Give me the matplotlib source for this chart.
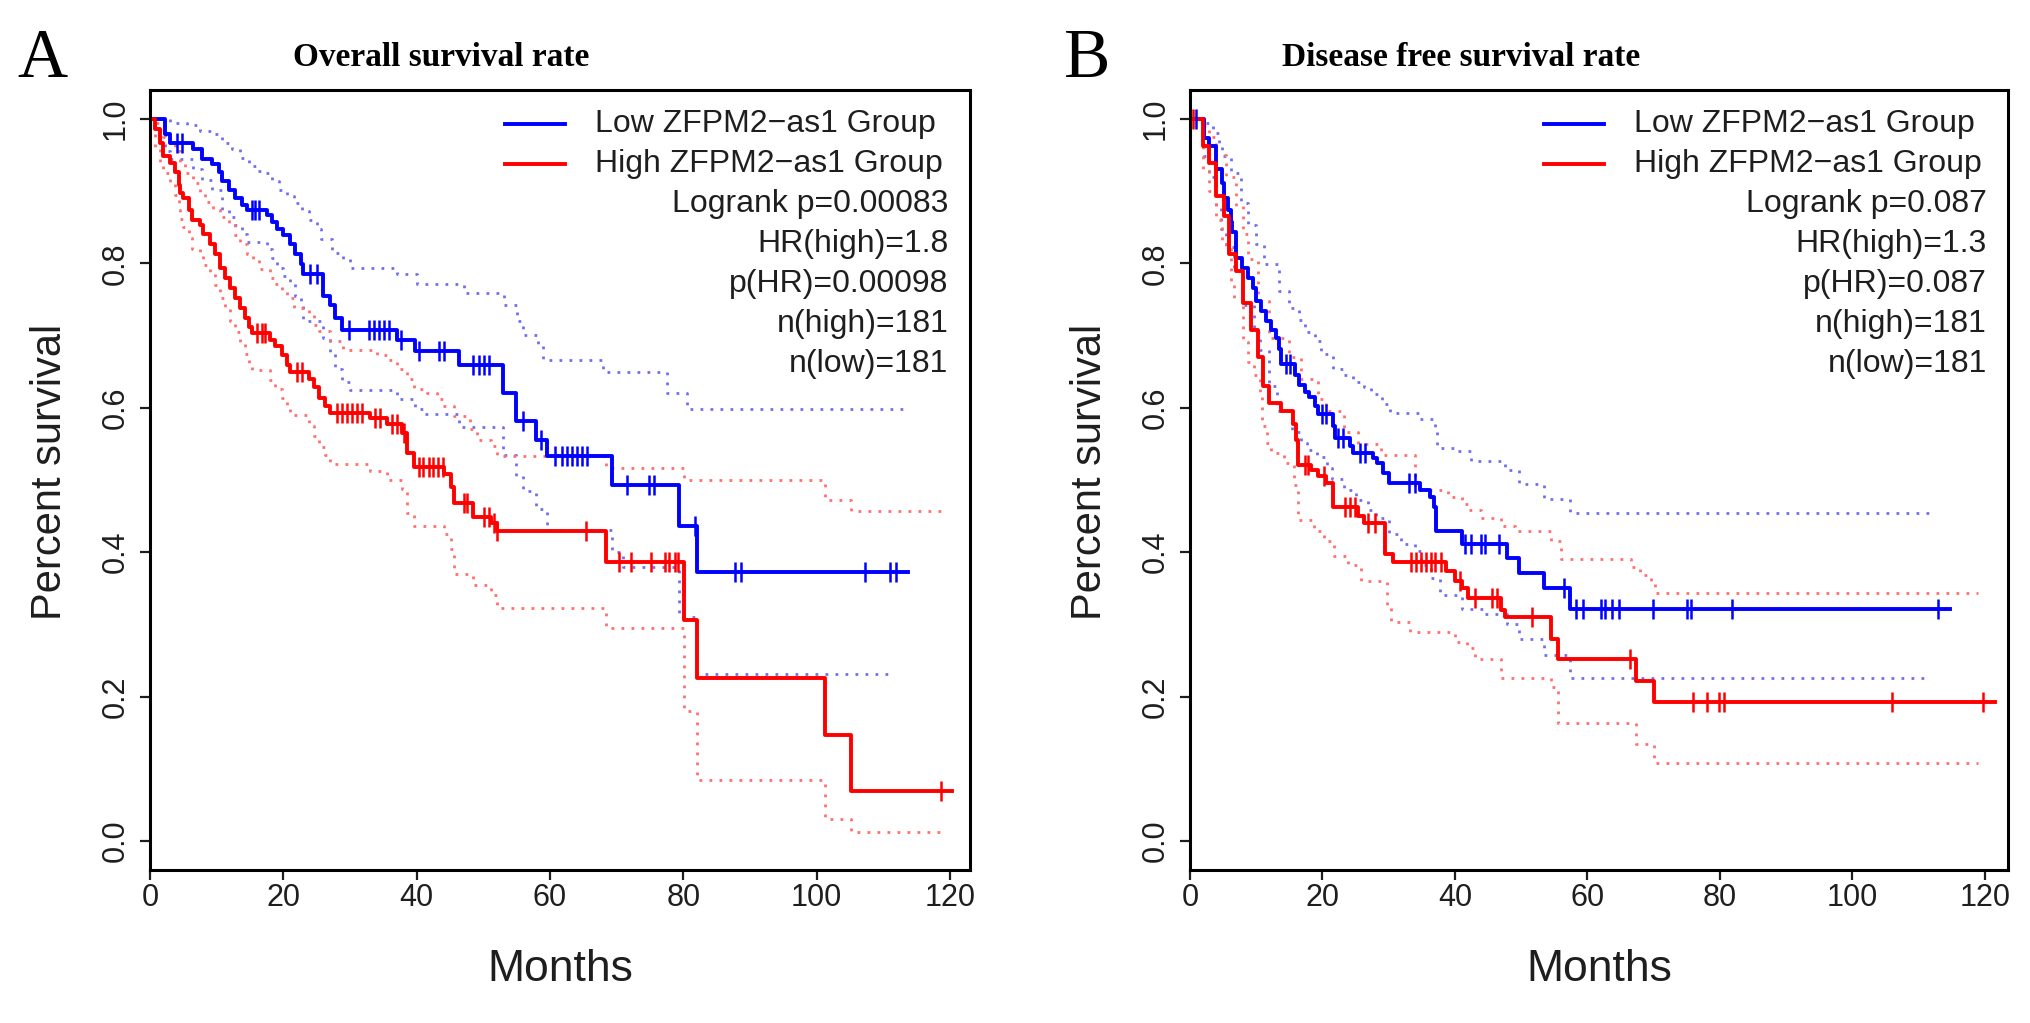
import matplotlib
matplotlib.use("Agg")
import matplotlib.pyplot as plt

# ---------------- DATA ----------------
# Overall survival (panel A)
os_low_t = [0, 2.3, 3, 6.5, 7.8, 9.3, 10.3, 10.8, 11.8, 12.8, 13.8, 14.5, 17.5, 18.3, 19, 20, 21, 21.8, 22.6, 23,
            26, 27, 27.8, 28.8, 37.1, 39.8, 46.4, 52.9, 54.9, 57.9, 59.6, 69.3, 79.3, 82.0]
os_low_s = [1.0, 0.979, 0.967, 0.958, 0.944, 0.937, 0.926, 0.914, 0.902, 0.89, 0.881, 0.874, 0.867, 0.857, 0.848,
            0.839, 0.827, 0.813, 0.799, 0.785, 0.755, 0.743, 0.724, 0.708, 0.694, 0.678, 0.659, 0.621, 0.582, 0.556,
            0.533, 0.493, 0.437, 0.373]
os_low_end = 113.7
os_low_cens = [4, 4.8, 15.3, 15.8, 16.3, 24, 25, 29.8, 32.8, 33.6, 34.3, 35.1, 35.8, 37.6, 40.4, 43.4, 44.1, 48.5,
               49.3, 50.1, 50.8, 56, 58.6, 60.8, 61.8, 62.5, 63.3, 64, 64.8, 65.6, 71.6, 74.9, 75.6, 81.8, 87.8,
               88.6, 107.2, 111, 111.9]

os_high_t = [0, 0.75, 1.5, 2, 3, 3.8, 4.3, 4.5, 5, 5.8, 6.3, 7.5, 8, 9, 9.8, 10.5, 11.3, 12, 12.8, 13.5, 14.3, 14.8,
             15.3, 18, 18.8, 19.8, 20.6, 21, 23.8, 24.6, 25.3, 26.3, 27, 33, 35.6, 37.8, 38.5, 39.6, 44.1, 45.1,
             45.6, 48.4, 51.1, 52.1, 68.4, 80.1, 82.0, 101.2, 105.2]
os_high_s = [1.0, 0.986, 0.967, 0.949, 0.939, 0.927, 0.909, 0.897, 0.89, 0.874, 0.86, 0.853, 0.841, 0.827, 0.813,
             0.794, 0.78, 0.766, 0.752, 0.738, 0.724, 0.712, 0.703, 0.694, 0.685, 0.673, 0.659, 0.65, 0.64, 0.629,
             0.614, 0.603, 0.593, 0.586, 0.577, 0.565, 0.537, 0.518, 0.508, 0.49, 0.468, 0.449, 0.44, 0.43, 0.386,
             0.306, 0.226, 0.147, 0.069]
os_high_end = 120.3
os_high_cens = [16, 16.8, 17.3, 22, 22.8, 28, 28.8, 29.5, 30.3, 31, 31.8, 33.8, 34.5, 36.3, 37, 38.1, 40.4, 41, 41.8,
                42.5, 43.2, 43.9, 47.1, 47.6, 50.1, 50.9, 51.6, 52.1, 65.4, 70.4, 72.2, 75.2, 77.2, 77.9, 78.7,
                79.2, 118.7]

os_low_up_t = [0, 3, 5.5, 7.5, 9.3, 10.8, 12.3, 13.5, 14.8, 16, 17.3, 18.3, 19.3, 20.6, 21.6, 22.8, 23.8, 25, 25.6,
               27.3, 29, 30, 37, 40, 47.1, 53.1, 55, 56, 58.2, 59, 68, 77.6, 80.6]
os_low_up_v = [1.0, 0.995, 0.991, 0.983, 0.979, 0.967, 0.958, 0.946, 0.935, 0.928, 0.925, 0.914, 0.902, 0.893, 0.883,
               0.872, 0.86, 0.848, 0.834, 0.815, 0.806, 0.794, 0.785, 0.771, 0.759, 0.743, 0.72, 0.701, 0.685, 0.666,
               0.649, 0.62, 0.598]
os_low_up_end = 113.7
os_low_lo_t = [0, 2.3, 3, 6.5, 7.8, 9.3, 10.8, 11.8, 12.8, 13.8, 14.5, 17.5, 18.3, 19, 20, 21, 21.8, 22.6, 23, 26,
               27, 27.8, 28.8, 30, 37.1, 39.8, 41, 46.4, 52.9, 54.9, 56, 57.9, 59.6, 69.3, 71, 79.3, 82]
os_low_lo_v = [1.0, 0.955, 0.944, 0.93, 0.916, 0.902, 0.874, 0.864, 0.853, 0.841, 0.829, 0.82, 0.808, 0.794, 0.782,
               0.771, 0.755, 0.743, 0.72, 0.696, 0.675, 0.654, 0.636, 0.624, 0.612, 0.598, 0.592, 0.573, 0.535,
               0.505, 0.485, 0.46, 0.431, 0.40, 0.38, 0.31, 0.231]
os_low_lo_end = 111.3

os_high_up_t = [0, 0.75, 1.5, 2, 3, 3.8, 4.5, 5.3, 6.5, 7.5, 8.3, 9.5, 10.5, 11.8, 12.8, 13.5, 14.5, 15.5, 16.3, 18,
                18.8, 19.8, 20.6, 21.6, 23.8, 24.6, 25.3, 27, 29, 34, 35.6, 37, 38.6, 39.6, 41.6, 43, 44, 45.6, 48,
                49, 51.1, 52.1, 68.4, 80.1, 101.2, 105.2]
os_high_up_v = [1.0, 0.995, 0.985, 0.975, 0.965, 0.955, 0.94, 0.925, 0.911, 0.899, 0.885, 0.874, 0.864, 0.853,
                0.839, 0.827, 0.813, 0.804, 0.792, 0.78, 0.771, 0.762, 0.752, 0.738, 0.729, 0.715, 0.706, 0.692,
                0.68, 0.673, 0.666, 0.654, 0.64, 0.626, 0.621, 0.612, 0.603, 0.589, 0.57, 0.555, 0.547, 0.533,
                0.516, 0.5, 0.472, 0.457]
os_high_up_end = 119.0
os_high_lo_t = [0, 0.75, 1.5, 2, 3, 3.8, 4.3, 4.5, 5, 5.8, 6.3, 7.5, 8, 9, 9.8, 10.5, 11.3, 12, 12.8, 13.5, 14.3,
                14.8, 15.3, 18, 18.8, 19.8, 20.6, 21, 23.8, 24.6, 25.3, 26.3, 27, 33, 35.6, 37.8, 38.5, 39.6, 44.1,
                45.1, 45.6, 48.4, 51.1, 52.1, 68.4, 80.1, 82, 101.2, 105.2]
os_high_lo_v = [1.0, 0.96, 0.94, 0.925, 0.912, 0.895, 0.874, 0.862, 0.85, 0.835, 0.82, 0.81, 0.798, 0.785, 0.77,
                0.752, 0.738, 0.72, 0.705, 0.69, 0.675, 0.662, 0.652, 0.638, 0.626, 0.614, 0.6, 0.59, 0.575, 0.561,
                0.546, 0.535, 0.522, 0.512, 0.5, 0.487, 0.455, 0.437, 0.425, 0.405, 0.37, 0.355, 0.341, 0.323,
                0.295, 0.18, 0.085, 0.03, 0.013]
os_high_lo_end = 118.9

# Disease free survival (panel B)
dfs_low_t = [0, 2.1, 2.9, 3.9, 4.9, 5.2, 5.7, 6.2, 6.4, 6.9, 7.9, 8.7, 9.5, 10, 10.7, 11.5, 12.2, 13, 13.5, 13.8,
             15.8, 16.5, 17.3, 18, 18.8, 19.3, 21.6, 21.9, 24.1, 24.6, 27.6, 28.2, 29.2, 30, 34.8, 36.3, 36.9, 37.2,
             41, 47.9, 49.7, 53.5, 57.3]
dfs_low_s = [1.0, 0.974, 0.963, 0.93, 0.911, 0.89, 0.874, 0.857, 0.843, 0.808, 0.794, 0.78, 0.766, 0.748, 0.734,
             0.72, 0.708, 0.696, 0.682, 0.661, 0.645, 0.631, 0.622, 0.615, 0.603, 0.591, 0.575, 0.558, 0.547, 0.537,
             0.53, 0.524, 0.51, 0.496, 0.486, 0.477, 0.462, 0.43, 0.411, 0.392, 0.371, 0.35, 0.322]
dfs_low_end = 114.7
dfs_low_cens = [0.9, 14.5, 15.1, 20, 20.6, 22.4, 23.1, 25.6, 26.4, 33.1, 34, 41.5, 42.5, 43.9, 44.6, 46.6, 56.5,
                58.3, 59.3, 62, 62.7, 63.7, 64.7, 69.9, 75, 75.7, 81.8, 112.9]

dfs_high_t = [0, 1.9, 2.9, 3.9, 5.2, 5.9, 7, 8, 9.2, 10.2, 11, 12, 13.8, 15.6, 16, 16.3, 18.3, 19.3, 20.6, 21.6,
              25.3, 26.3, 29.5, 30.6, 38.7, 40, 41, 42, 47, 47.5, 54.5, 55.5, 67.4, 70.1]
dfs_high_s = [1.0, 0.963, 0.939, 0.893, 0.865, 0.813, 0.79, 0.745, 0.708, 0.671, 0.63, 0.607, 0.596, 0.577, 0.556,
              0.521, 0.514, 0.505, 0.496, 0.463, 0.45, 0.441, 0.398, 0.386, 0.374, 0.36, 0.35, 0.336, 0.32, 0.31,
              0.28, 0.252, 0.222, 0.193]
dfs_high_end = 121.5
dfs_high_cens = [0.5, 17.3, 17.8, 20.3, 23.4, 24.1, 24.9, 26.8, 28, 33.4, 34.1, 34.9, 35.7, 36.4, 37, 37.9, 40.7,
                 43, 45.6, 46.4, 51.7, 66.4, 76, 78, 79.8, 80.6, 106, 119.7]

dfs_low_up_t = [0, 2.1, 3.4, 4.4, 4.9, 6.2, 7.7, 8.7, 10, 11.2, 13.5, 15, 16.5, 17.3, 18.8, 19.8, 21.6, 23.1, 24.6,
                26.2, 27.4, 29, 30.2, 34.8, 37, 37.3, 40.3, 42.4, 47.6, 49.7, 53.5, 57.3]
dfs_low_up_v = [1.0, 0.995, 0.981, 0.967, 0.949, 0.925, 0.883, 0.853, 0.827, 0.799, 0.762, 0.738, 0.722, 0.705,
                0.692, 0.675, 0.654, 0.645, 0.636, 0.629, 0.619, 0.605, 0.593, 0.584, 0.57, 0.544, 0.54, 0.526,
                0.514, 0.495, 0.474, 0.455]
dfs_low_up_end = 112.4
dfs_low_lo_t = [0, 2.1, 2.9, 3.9, 4.7, 5.4, 6.7, 8, 9.7, 10.6, 11.9, 13.2, 15.4, 16.7, 17.7, 19.2, 20.7, 21.5, 23.3,
                25, 26.8, 28.1, 30.1, 31.9, 33.9, 34.9, 36.4, 37.7, 41, 44.5, 47.9, 49.7, 53.5, 57.3]
dfs_low_lo_v = [1.0, 0.949, 0.92, 0.88, 0.848, 0.822, 0.789, 0.743, 0.705, 0.68, 0.63, 0.595, 0.567, 0.551, 0.542,
                0.532, 0.516, 0.502, 0.486, 0.472, 0.458, 0.448, 0.425, 0.411, 0.402, 0.383, 0.364, 0.341, 0.322,
                0.315, 0.301, 0.28, 0.258, 0.226]
dfs_low_lo_end = 111.6

dfs_high_up_t = [0, 1.9, 2.9, 3.9, 5.4, 7, 8, 8.7, 10.3, 12, 15, 16.8, 19.3, 20.6, 23.2, 25.3, 28.8, 33.9, 38.9, 41,
                 42, 44, 47, 49, 54.5, 56, 66.6, 68, 69.6, 70.2]
dfs_high_up_v = [1.0, 0.99, 0.975, 0.95, 0.92, 0.88, 0.841, 0.806, 0.748, 0.696, 0.671, 0.64, 0.612, 0.596, 0.566,
                 0.55, 0.535, 0.486, 0.477, 0.467, 0.458, 0.448, 0.437, 0.43, 0.415, 0.39, 0.38, 0.369, 0.36, 0.343]
dfs_high_up_end = 119.0
dfs_high_lo_t = [0, 2, 2.9, 3.9, 4.9, 6.2, 6.7, 8, 8.8, 9.6, 10.6, 10.9, 11.6, 12.2, 14.2, 15.7, 16.3, 18.7, 20.2,
                 21.7, 23.8, 25.8, 29.8, 30.4, 33.2, 40, 41.8, 43, 46.9, 54.5, 55.5, 67.4, 70.1]
dfs_high_lo_v = [1.0, 0.93, 0.9, 0.86, 0.827, 0.776, 0.752, 0.691, 0.663, 0.645, 0.617, 0.575, 0.551, 0.537, 0.523,
                 0.493, 0.444, 0.43, 0.416, 0.395, 0.383, 0.36, 0.327, 0.304, 0.29, 0.276, 0.268, 0.252, 0.226,
                 0.214, 0.163, 0.135, 0.108]
dfs_high_lo_end = 119.0

x_ticks = [0, 20, 40, 60, 80, 100, 120]
y_ticks = [0.0, 0.2, 0.4, 0.6, 0.8, 1.0]
legend_groups = ["Low ZFPM2\u2212as1 Group", "High ZFPM2\u2212as1 Group"]
os_stats = ["Logrank p=0.00083", "HR(high)=1.8", "p(HR)=0.00098", "n(high)=181", "n(low)=181"]
dfs_stats = ["Logrank p=0.087", "HR(high)=1.3", "p(HR)=0.087", "n(high)=181", "n(low)=181"]

# ---------------- STYLE ----------------
BLUE = "#0000ff"
RED = "#ff0000"
BLUE_CI = "#7070ee"
RED_CI = "#ff6f6f"
TXT = "#1e1e1e"
SANS = ["Liberation Sans", "DejaVu Sans"]
SERIF = ["Liberation Serif", "DejaVu Serif"]

W, H = 2031, 1023
fig = plt.figure(figsize=(W / 100, H / 100), dpi=100)


def step_line(ax, t, v, end, **kw):
    xs = list(t) + [end]
    ys = list(v) + [v[-1]]
    ax.step(xs, ys, where="post", **kw)


def censor(ax, t, v, cens, color):
    ys = []
    for c in cens:
        idx = 0
        for i, tt in enumerate(t):
            if tt <= c:
                idx = i
        ys.append(v[idx])
    ax.plot(cens, ys, linestyle="none", marker="|", markersize=14, markeredgewidth=1.8, color=color)


def panel(rect, title, letter, letter_x, title_x, curves, stats, xmax):
    ax = fig.add_axes(rect)
    (lt, ls, lend, lc), (ht, hs, hend, hc), cis = curves
    dot = (0, (1.0, 2.6))
    for (t, v, end, col) in cis:
        step_line(ax, t, v, end, color=col, lw=2.0, linestyle=dot)
    step_line(ax, lt, ls, lend, color=BLUE, lw=2.8)
    step_line(ax, ht, hs, hend, color=RED, lw=2.8)
    censor(ax, lt, ls, lc, BLUE)
    censor(ax, ht, hs, hc, RED)

    ax.set_xlim(0, xmax)
    ax.set_ylim(-0.04, 1.04)
    ax.set_xticks(x_ticks)
    ax.set_yticks(y_ticks)
    ax.set_xticklabels([str(x) for x in x_ticks], fontsize=22, family=SANS)
    ax.set_yticklabels(["%.1f" % y for y in y_ticks], fontsize=22, family=SANS, rotation=90, va="center")
    ax.tick_params(axis="x", direction="out", length=7, width=1.6, pad=2, colors=TXT)
    ax.tick_params(axis="y", direction="out", length=7, width=1.6, pad=7, colors=TXT)
    for sp in ax.spines.values():
        sp.set_linewidth(2.2)
        sp.set_color("black")
    ax.text(0.5, -0.127, "Months", transform=ax.transAxes, ha="center", va="center",
            fontsize=32, family=SANS, color=TXT)
    ax.text(-0.122, 0.51, "Percent survival", transform=ax.transAxes, ha="center", va="center",
            rotation=90, fontsize=30, family=SANS, color=TXT)

    # legend-like block
    rows = [0.956, 0.905, 0.854, 0.803, 0.751, 0.700, 0.649]
    for i, lab in enumerate(legend_groups):
        ax.text(0.543, rows[i], lab, transform=ax.transAxes, ha="left", va="center",
                fontsize=23, family=SANS, color=TXT)
    for i, lab in enumerate(stats):
        ax.text(0.974, rows[i + 2], lab, transform=ax.transAxes, ha="right", va="center",
                fontsize=23, family=SANS, color=TXT)
    ax.plot([0.433, 0.506], [rows[0], rows[0]], transform=ax.transAxes, color=BLUE, lw=2.8)
    ax.plot([0.433, 0.506], [rows[1], rows[1]], transform=ax.transAxes, color=RED, lw=2.8)

    fig.text(title_x / W, 1 - 58 / H, title, ha="center", va="center", fontsize=24,
             fontweight="bold", family=SERIF)
    fig.text(letter_x / W, 1 - 60 / H, letter, ha="center", va="center", fontsize=50, family=SERIF)
    return ax


L_rect = [150 / W, (H - 870) / H, 820 / W, 780 / H]
R_rect = [1190 / W, (H - 870) / H, 818 / W, 780 / H]

panel(L_rect, "Overall survival rate", "A", 42, 441,
      ((os_low_t, os_low_s, os_low_end, os_low_cens),
       (os_high_t, os_high_s, os_high_end, os_high_cens),
       [(os_low_up_t, os_low_up_v, os_low_up_end, BLUE_CI),
        (os_low_lo_t, os_low_lo_v, os_low_lo_end, BLUE_CI),
        (os_high_up_t, os_high_up_v, os_high_up_end, RED_CI),
        (os_high_lo_t, os_high_lo_v, os_high_lo_end, RED_CI)]),
      os_stats, 123)

panel(R_rect, "Disease free survival rate", "B", 1087, 1461,
      ((dfs_low_t, dfs_low_s, dfs_low_end, dfs_low_cens),
       (dfs_high_t, dfs_high_s, dfs_high_end, dfs_high_cens),
       [(dfs_low_up_t, dfs_low_up_v, dfs_low_up_end, BLUE_CI),
        (dfs_low_lo_t, dfs_low_lo_v, dfs_low_lo_end, BLUE_CI),
        (dfs_high_up_t, dfs_high_up_v, dfs_high_up_end, RED_CI),
        (dfs_high_lo_t, dfs_high_lo_v, dfs_high_lo_end, RED_CI)]),
      dfs_stats, 123.5)

fig.savefig("out.png", dpi=100, facecolor="white")
